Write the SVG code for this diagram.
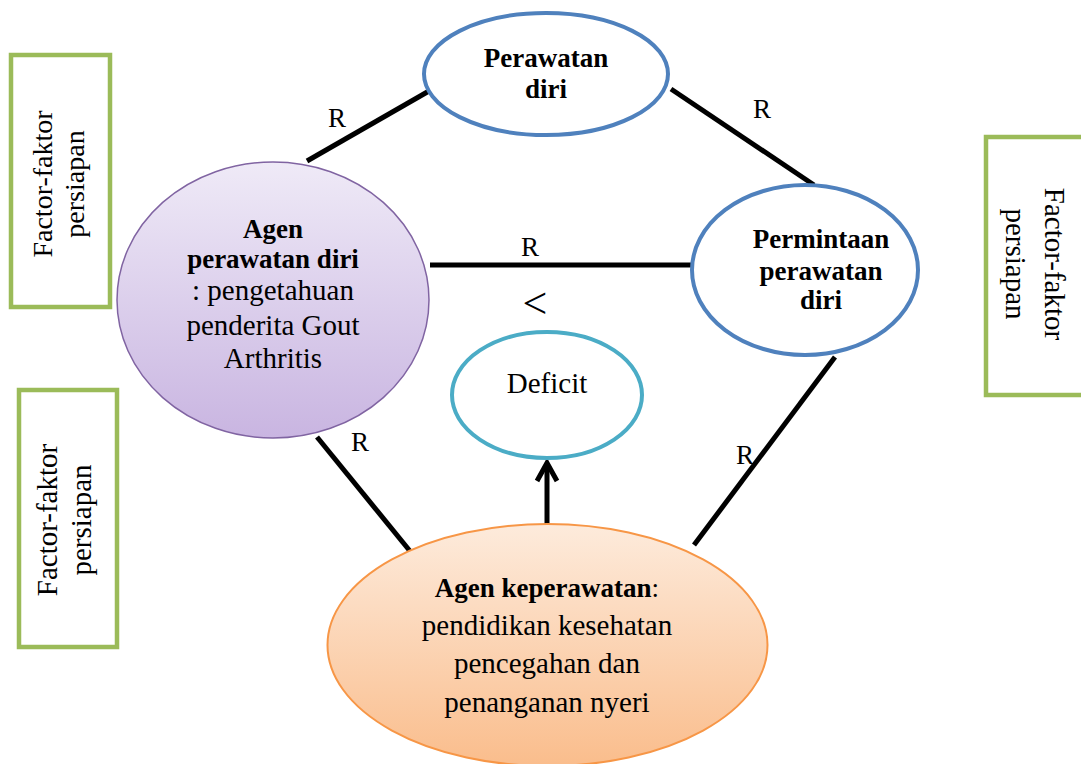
<svg xmlns="http://www.w3.org/2000/svg" width="1081" height="764" viewBox="0 0 1081 764">
<defs>
<linearGradient id="gPurple" x1="0" y1="0" x2="0" y2="1">
<stop offset="0" stop-color="#EFEAF7"/>
<stop offset="1" stop-color="#C9B5E1"/>
</linearGradient>
<linearGradient id="gOrange" x1="0" y1="0" x2="0" y2="1">
<stop offset="0" stop-color="#FDEBDC"/>
<stop offset="1" stop-color="#FABD8C"/>
</linearGradient>
<style>
.t{font-family:"Liberation Serif","Times New Roman",serif;fill:#000;}
.b{font-weight:bold;}
.box{fill:#fff;stroke:#9BBB59;stroke-width:4.5;}
.con{stroke:#000;stroke-width:5;fill:none;stroke-linecap:butt;}
</style>
</defs>
<rect width="1081" height="764" fill="#fff"/>

<g id="box-left-top">
<rect class="box" x="11" y="55" width="99" height="252"/>
<text class="t" font-size="28" text-anchor="middle" transform="translate(52,184) rotate(-90)">Factor-faktor</text>
<text class="t" font-size="28" text-anchor="middle" transform="translate(84,184) rotate(-90)">persiapan</text>
</g>

<g id="box-left-bottom">
<rect class="box" x="19" y="390" width="98" height="257"/>
<text class="t" font-size="29" text-anchor="middle" transform="translate(57,520) rotate(-90)">Factor-faktor</text>
<text class="t" font-size="29" text-anchor="middle" transform="translate(91,520) rotate(-90)">persiapan</text>
</g>

<g id="box-right">
<rect class="box" x="986" y="137" width="100" height="258"/>
<text class="t" font-size="29" text-anchor="middle" transform="translate(1045,264) rotate(90)">Factor-faktor</text>
<text class="t" font-size="29" text-anchor="middle" transform="translate(1006,264) rotate(90)">persiapan</text>
</g>

<g id="connectors">
<line class="con" x1="307" y1="161" x2="429" y2="91"/>
<line class="con" x1="671" y1="89" x2="814" y2="185"/>
<line class="con" x1="430" y1="265" x2="694" y2="265"/>
<line class="con" x1="317" y1="437" x2="414" y2="556"/>
<line class="con" x1="835" y1="357" x2="694" y2="545"/>
<line class="con" x1="547" y1="524" x2="547" y2="463"/>
<polyline class="con" points="537,481 547,463 557,481" stroke-linejoin="miter"/>
<text class="t" font-size="27" x="337" y="127" text-anchor="middle">R</text>
<text class="t" font-size="27" x="762" y="118" text-anchor="middle">R</text>
<text class="t" font-size="27" x="530" y="256" text-anchor="middle">R</text>
<text class="t" font-size="27" x="360" y="451" text-anchor="middle">R</text>
<text class="t" font-size="27" x="745" y="464" text-anchor="middle">R</text>
<text class="t" font-size="44" x="535" y="318" text-anchor="middle">&lt;</text>
</g>

<g id="node-perawatan">
<ellipse cx="546" cy="74" rx="122" ry="61" fill="#fff" stroke="#4F81BD" stroke-width="4"/>
<text class="t b" font-size="27" x="546" y="67" text-anchor="middle">Perawatan</text>
<text class="t b" font-size="27" x="546" y="98" text-anchor="middle">diri</text>
</g>

<g id="node-permintaan">
<ellipse cx="805" cy="270" rx="113" ry="85" fill="#fff" stroke="#4F81BD" stroke-width="4"/>
<text class="t b" font-size="27" x="821" y="248" text-anchor="middle">Permintaan</text>
<text class="t b" font-size="27" x="821" y="280" text-anchor="middle">perawatan</text>
<text class="t b" font-size="27" x="821" y="309" text-anchor="middle">diri</text>
</g>

<g id="node-agen-diri">
<ellipse cx="273" cy="300" rx="156" ry="138" fill="url(#gPurple)" stroke="#8064A2" stroke-width="1.5"/>
<text class="t b" font-size="27" x="273" y="238" text-anchor="middle">Agen</text>
<text class="t b" font-size="27" x="273" y="268" text-anchor="middle">perawatan diri</text>
<text class="t" font-size="29" x="273" y="300" text-anchor="middle">: pengetahuan</text>
<text class="t" font-size="29" x="273" y="335" text-anchor="middle">penderita Gout</text>
<text class="t" font-size="29" x="273" y="368" text-anchor="middle">Arthritis</text>
</g>

<g id="node-deficit">
<ellipse cx="547" cy="395" rx="95" ry="63" fill="#fff" stroke="#4BACC6" stroke-width="4"/>
<text class="t" font-size="29" x="547" y="393" text-anchor="middle">Deficit</text>
</g>

<g id="node-agen-keperawatan">
<ellipse cx="547.5" cy="645" rx="220" ry="121" fill="url(#gOrange)" stroke="#F79646" stroke-width="2"/>
<text class="t" font-size="27" x="547" y="597" text-anchor="middle"><tspan class="b">Agen keperawatan</tspan>:</text>
<text class="t" font-size="29" x="547" y="635" text-anchor="middle">pendidikan kesehatan</text>
<text class="t" font-size="29" x="547" y="673" text-anchor="middle">pencegahan dan</text>
<text class="t" font-size="29" x="547" y="712" text-anchor="middle">penanganan nyeri</text>
</g>
</svg>
